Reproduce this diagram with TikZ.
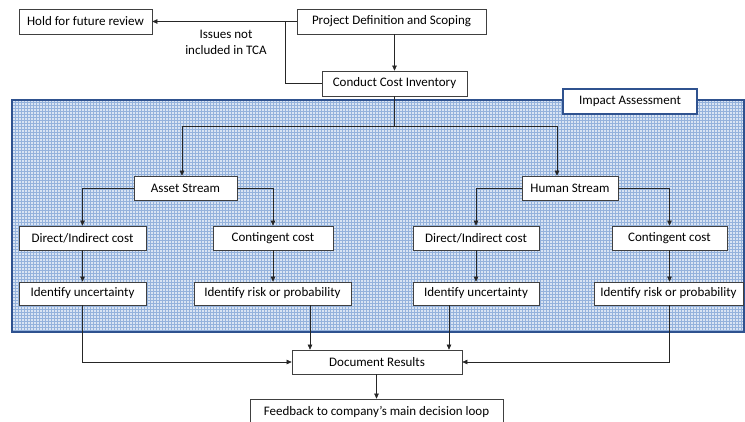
\documentclass[tikz,border=0pt]{standalone}
\usepackage{fontspec}
\setmainfont{Carlito}
\usetikzlibrary{arrows.meta}
\definecolor{panelblue}{HTML}{D9E4F3}
\definecolor{gridblue}{HTML}{94B2DC}
\definecolor{frameblue}{HTML}{2F528F}
\begin{document}
\begin{tikzpicture}[x=1pt,y=-1pt,
  font=\fontsize{13}{16}\selectfont,
  box/.style={draw=black!75, fill=white, line width=0.7pt, inner sep=0pt,
    minimum height=24pt},
  arr/.style={draw=black!85, line width=0.6pt, -{Triangle[length=5pt,width=4.5pt]}},
  link/.style={draw=black!85, line width=0.6pt}]
\useasboundingbox (0,0) rectangle (745,421);

% shaded assessment panel
\fill[panelblue] (12,100) rectangle (744,332);
\draw[gridblue, line width=0.45pt, step=3pt] (12,100) grid (744,332);
\draw[frameblue, line width=2.4pt] (12,100) rectangle (744,332);
\node[box, draw=frameblue, line width=1.8pt, minimum width=134pt, minimum height=25pt] (impact) at (630,101.5) {Impact Assessment};

% top section
\node[box, minimum width=133pt, minimum height=25pt] (hold) at (85.5,21.5) {Hold for future review};
\node[box, minimum width=189pt, minimum height=25pt] (proj) at (391.5,21.5) {Project Definition and Scoping};
\node[box, minimum width=145pt, minimum height=25pt] (inv) at (394.5,83.5) {Conduct Cost Inventory};
\node[align=center] (issues) at (226,42) {Issues not\\included in TCA};

% streams
\node[box, minimum width=103pt] (asset) at (185.5,188) {Asset Stream};
\node[box, minimum width=96pt] (human) at (570,188) {Human Stream};

\node[box, minimum width=127pt] (dil) at (82.5,238) {Direct/Indirect cost};
\node[box, minimum width=120pt] (cl) at (273,238) {Contingent cost};
\node[box, minimum width=127pt, minimum height=23pt] (ul) at (82.5,293.5) {Identify uncertainty};
\node[box, minimum width=157pt, minimum height=23pt] (rl) at (272.5,293.5) {Identify risk or probability};

\node[box, minimum width=126pt] (dir) at (476,238) {Direct/Indirect cost};
\node[box, minimum width=115pt] (cr) at (669.5,238) {Contingent cost};
\node[box, minimum width=126pt, minimum height=23pt] (ur) at (476,293.5) {Identify uncertainty};
\node[box, minimum width=149pt, minimum height=23pt] (rr) at (668.5,293.5) {Identify risk or probability};

% results
\node[box, minimum width=170pt] (doc) at (377,362) {Document Results};
\node[box, minimum width=253pt, minimum height=25pt] (fb) at (376.5,411.5) {Feedback to company’s main decision loop};

% connectors: top
\coordinate (jn) at (285,21.5);
\draw[arr] (proj.west) -- (hold.east);
\draw[link] (inv.west) -| (jn);
\draw[arr] (proj.south -| inv.north) -- (inv.north);

% connectors: split into streams
\coordinate (split) at (394.5,126);
\draw[link] (inv.south) -- (split);
\draw[arr] (split) -| ([xshift=-3.5pt]asset.north);
\draw[arr] (split) -| ([xshift=-13pt]human.north);

\draw[arr] (asset.west) -| (dil.north);
\draw[arr] (asset.east) -| (cl.north);
\draw[arr] (human.west) -| (dir.north);
\draw[arr] (human.east) -| (cr.north);

\draw[arr] (dil) -- (ul);
\draw[arr] (cl.south) -- (cl.south |- rl.north);
\draw[arr] (dir) -- (ur);
\draw[arr] (cr.south) -- (cr.south |- rr.north);

% connectors: into results
\draw[arr] (ul.south) |- (doc.west);
\draw[arr] ([xshift=37.5pt]rl.south) -- ([xshift=37.5pt]rl.south |- doc.north);
\draw[arr] ([xshift=-27pt]ur.south) -- ([xshift=-27pt]ur.south |- doc.north);
\draw[arr] (cr.south |- rr.south) |- (doc.east);
\draw[arr] (doc.south -| fb.north) -- (fb.north);
\end{tikzpicture}
\end{document}
